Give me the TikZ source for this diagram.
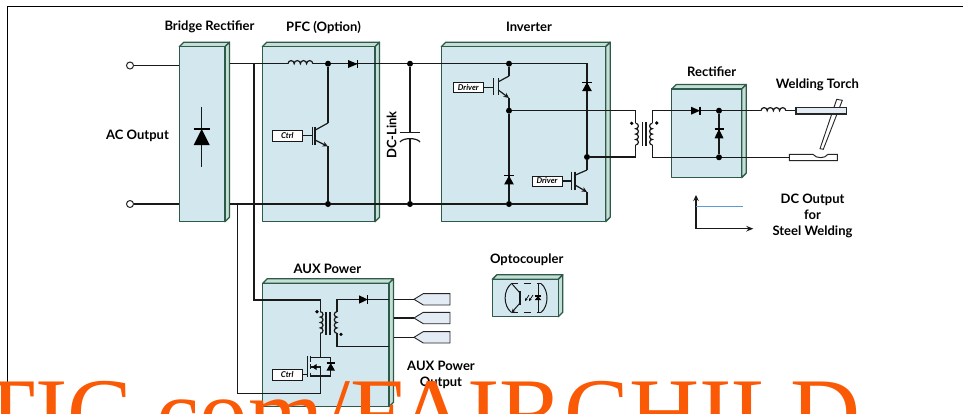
\documentclass[tikz,border=0pt]{standalone}
\usepackage{fontspec}
\setmainfont{Lato}
\newfontfamily\wmfont{Liberation Serif}
\usetikzlibrary{arrows.meta}
\definecolor{boxfill}{HTML}{D2E8EE}
\definecolor{boxside}{HTML}{C4DED8}
\definecolor{boxline}{HTML}{2E5B47}
\definecolor{portfill}{HTML}{E3EBF5}
\definecolor{wmorange}{HTML}{FA5A05}
\definecolor{curve}{HTML}{5B9BD5}
\tikzset{
  wire/.style={line width=1.2pt,black!90},
  dot/.style={circle,fill=black,inner sep=0pt,minimum size=6pt},
  term/.style={circle,draw=black!85,line width=1pt,fill=white,inner sep=0pt,minimum size=7pt},
  lbl/.style={font=\bfseries\fontsize{13}{13}\selectfont,text=black,inner sep=0pt,align=center},
  tag/.style={draw=black!90,line width=1pt,fill=white,inner sep=0pt,font=\bfseries\itshape\fontsize{8}{8}\selectfont},
  modbox/.style={draw=boxline,line width=1.3pt,line join=round},
  port/.style={draw=black!85,line width=.9pt,fill=portfill},
}
\newcommand{\modulebox}[5][4.5]{%
  \fill[boxside,modbox] (#2,#3)--++(#1,-#1)--(#4+#1,#3-#1)--(#4,#3)--cycle;
  \fill[boxside,modbox] (#4,#3)--(#4+#1,#3-#1)--(#4+#1,#5-#1)--(#4,#5)--cycle;
  \fill[boxfill,modbox] (#2,#3) rectangle (#4,#5);
}
\newcommand{\diodeH}[4]{%
  \fill[black] (#1,#3-#4)--(#2,#3)--(#1,#3+#4)--cycle;
  \draw[line width=1.2pt] (#2,#3-#4)--(#2,#3+#4);
}
\newcommand{\diodeV}[4]{%
  \fill[black] (#3-#4,#1)--(#3,#2)--(#3+#4,#1)--cycle;
  \draw[line width=1.2pt] (#3-#4,#2)--(#3+#4,#2);
}
\newcommand{\igbt}[7]{% gatex, barx, bartop, barbot, coll y, col x, emit y
  \draw[wire] (#1,#3)--(#1,#4);
  \draw[wire,line width=1.4pt] (#2,#3)--(#2,#4);
  \draw[wire] (#2,#3+3.5)--(#6,#5);
  \draw[wire,-{Stealth[length=5.5pt,width=5pt]}] (#2,#4-5)--(#6,#7);
}
\newcommand{\hcoil}[3]{%
  \draw[wire] (#1,#2) arc (180:360:#3) arc (180:360:#3) arc (180:360:#3) arc (180:360:#3);
}
\newcommand{\vcoilR}[3]{%
  \draw[wire] (#1,#2) arc (-90:90:#3) arc (-90:90:#3) arc (-90:90:#3) arc (-90:90:#3);
}
\newcommand{\vcoilL}[3]{%
  \draw[wire] (#1,#2) arc (-90:-270:#3) arc (-90:-270:#3) arc (-90:-270:#3) arc (-90:-270:#3);
}
\begin{document}
\begin{tikzpicture}[x=1pt,y=-1pt]
\useasboundingbox (0,0) rectangle (963,413);
\begin{scope}
\clip (0,0) rectangle (963,413);
\fill[white] (0,0) rectangle (963,413);
\draw[line width=1.3pt,black] (7.5,413)--(7.5,6.3)--(963,6.3);

% module boxes
\modulebox{179.3}{46.7}{225}{221.7}
\modulebox{262.3}{46.7}{375}{221.7}
\modulebox{441.3}{46.7}{605.7}{221.7}
\modulebox{671.7}{89}{741.7}{177.7}
\modulebox{262.7}{283.3}{389}{406.7}
\modulebox{492.3}{279.3}{558.3}{316.7}

% key points
\node[term] (acT) at (130,65.5) {};
\node[term] (acB) at (130,204) {};
\coordinate (brTL) at (179.3,65.5);
\coordinate (brBL) at (179.3,204);
\coordinate (brTR) at (229.5,63.7);
\coordinate (brBR) at (229.5,204);
\coordinate (tapA) at (254,63.7);
\coordinate (tapB) at (237.3,204);
\node[dot] (j1) at (328,63.7) {};
\node[dot] (j2) at (410,63.7) {};
\node[dot] (j3) at (509,63.7) {};
\node[dot] (j4) at (328,204) {};
\node[dot] (j5) at (410,204) {};
\node[dot] (j6) at (509,204) {};
\node[dot] (j7) at (509,110.7) {};
\node[dot] (j8) at (587,157) {};
\node[dot] (j9) at (719,110.7) {};
\node[dot] (j10) at (719,157.3) {};
\coordinate (railTR) at (587,63.7);
\coordinate (railBR) at (587,204);

% rails
\draw[wire] (acT)--(brTL);
\draw[wire] (acB)--(brBL);
\draw[wire] (brTR)--(288,63.7);
\draw[wire] (313,63.7)--(j1)--(j2)--(j3)--(railTR)--(j8);
\draw[wire] (brBR)--(j4)--(j5)--(j6)--(railBR)--(587,191.7);

% bridge rectifier
\draw[wire] (201.7,106.7)--(201.7,166.7);
\diodeV{145}{129}{201.7}{8}
\node[lbl] (lbridge) at (209.5,27) {Bridge Rectifier};
\node[lbl] (lac) at (137.5,135.5) {AC Output};

% PFC
\hcoil{288}{63.7}{3.1}
\diodeH{348}{357.5}{64}{4}
\draw[wire] (j1)--(328,123);
\draw[wire] (328,146)--(j4);
\node[tag,minimum width=30pt,minimum height=11pt] (ctrl1) at (287.3,135.5) {Ctrl};
\draw[wire] (ctrl1.east)--(312.3,135.5);
\igbt{312.3}{315}{126.7}{145}{123}{328}{146.5}
\node[lbl] (lpfc) at (323.5,27) {PFC (Option)};

% DC link
\draw[wire] (j2)--(410,132.7);
\draw[wire] (410,139)--(j5);
\draw[wire] (400,132.7)--(420,132.7);
\draw[wire] (400,142) .. controls (403,137.5) and (417,137.5) .. (420,142);
\node[lbl,rotate=90] (ldc) at (391.7,135) {DC-Link};

% Inverter
\draw[wire] (j3)--(509,76);
\draw[wire] (509,97.7)--(j7);
\node[tag,minimum width=30pt,minimum height=10pt] (drv1) at (468.3,87.2) {Driver};
\draw[wire] (drv1.east)--(493.3,87.2);
\igbt{493.3}{498.3}{78.3}{95}{76}{509}{98}
\draw[wire] (j7)--(j6);
\diodeV{184.3}{175.7}{509}{4.8}
\diodeV{91}{82.3}{587}{4.8}
\draw[wire] (j8)--(587,170);
\node[tag,minimum width=30pt,minimum height=10pt] (drv2) at (547,181) {Driver};
\draw[wire] (drv2.east)--(571.7,181);
\igbt{571.7}{575}{171.7}{190}{170}{587}{192}
\node[lbl] (linv) at (529,27) {Inverter};

% transformer
\coordinate (pT) at (635.7,123.3);
\coordinate (pB) at (635.7,145);
\coordinate (sT) at (652.3,123.3);
\coordinate (sB) at (652.3,145);
\draw[wire] (j7)--(635.7,110.7)--(pT);
\draw[wire] (pB)--(635.7,157)--(j8);
\vcoilR{635.7}{123.3}{2.7}
\vcoilL{652.3}{123.3}{2.7}
\draw[wire] (642.3,122)--(642.3,146) (646,122)--(646,146);
\fill (631.7,123.3) circle (1.8);
\fill (656.7,123) circle (1.8);
\coordinate (indIn) at (761,110.7);
\coordinate (indOut) at (785.8,110.7);

% secondary + rectifier
\draw[wire] (sT)--(652.3,110.7)--(j9)--(indIn);
\draw[wire] (sB)--(652.3,157.3)--(j10)--(789.3,157.3);
\diodeH{691}{700}{110.7}{4}
\draw[wire] (j9)--(j10);
\diodeV{138.3}{129}{719}{4.5}
\hcoil{761}{110.7}{3.1}
\draw[wire] (indOut)--(796,110.7);
\node[lbl] (lrect) at (711.7,72) {Rectifier};

% torch
\draw[port,fill=white] (836.7,99.3)--(842.3,100.3)--(823.3,149.3)--(820,148.7)--cycle;
\draw[port,line width=1.1pt] (796,107.7) rectangle (846.7,114);
\draw[port,fill=white,line width=1pt] (789.3,154.3)--(813,154.3) .. controls (816,158.8) and (825,158.8) .. (828,154.3)--(837.3,154.3)--(837.3,160.7)--(789.3,160.7)--cycle;
\node[lbl] (ltorch) at (817.3,84.5) {Welding Torch};

% chart
\coordinate (org) at (696,228.7);
\draw[wire,-{Stealth[length=6pt,width=5.5pt]}] (org)--(696,195);
\draw[wire,-{Stealth[length=7pt,width=5.5pt]}] (org)--(753.3,228.7);
\draw[curve,line width=1.3pt] (696,206.7)--(742.7,206.7);
\node[lbl] (ldc2) at (812.5,216) {DC Output\\[3.2pt]for\\[3.2pt]Steel Welding};

% AUX
\node[lbl] (laux) at (327.3,268.5) {AUX Power};
\draw[wire] (tapA)--(254,300)--(320.3,300)--(320.3,311.7);
\draw[wire] (tapB)--(237.3,393.3)--(320.3,393.3)--(320.3,376);
\vcoilR{320.3}{311.7}{2.7}
\vcoilL{337}{311.7}{2.7}
\draw[wire] (320.3,333.3)--(320.3,357.3)--(330.7,357.3)--(330.7,376)--(310.7,376);
\draw[wire] (310.7,357.3)--(320.3,357.3);
\draw[wire] (310.7,367)--(320.3,367)--(320.3,376);
\fill (312,367)--(316.5,364)--(316.5,370)--cycle;
\draw[wire,line width=1.4pt] (310.7,356)--(310.7,361.7) (310.7,364.3)--(310.7,369.3) (310.7,372.7)--(310.7,377.3);
\draw[wire] (307.7,356)--(307.7,377.3);
\diodeV{370.5}{363}{330.7}{4.2}
\node[tag,minimum width=29.7pt,minimum height=10.7pt] (ctrl2) at (287.2,374.7) {Ctrl};
\draw[wire] (ctrl2.east)--(307.7,374.7);
\draw[wire] (326,312)--(326,335) (330,312)--(330,335);
\fill (317,311.7) circle (1.8);
\fill (341,334.3) circle (1.8);
\draw[wire] (337,333.3)--(337,346.7)--(389,346.7);
\draw[wire] (337,311.7)--(337,299.5)--(389,299.5);
\diodeH{359}{367.7}{299.5}{4.2}

% AUX outputs
\coordinate (o1) at (394,299.3);
\coordinate (o2) at (394,318);
\coordinate (o3) at (394,337.3);
\foreach \n/\y in {o1/299.3,o2/318,o3/337.3}{
  \draw[port] (414,\y)--(423.3,\y-5.7)--(450,\y-5.7)--(450,\y+5.7)--(423.3,\y+5.7)--cycle;
  \draw[wire] (\n)--(414,\y);
}
\node[lbl] (lauxo) at (441,374.5) {AUX Power\\[2.8pt]Output};

% Optocoupler
\node[lbl] (lopto) at (526.7,259.7) {Optocoupler};
\begin{scope}[line width=1pt,black!90]
\draw (511.5,283.5) .. controls (503,290) and (503,306) .. (511.5,312.5);
\draw (541,283.5) .. controls (549,290) and (549,306) .. (541,312.5);
\draw (511.5,283.3)--(518,283.3) (524,283.3)--(531,283.3) (537,283.3)--(541,283.3);
\draw (511.5,312.7)--(518,312.7) (524,312.7)--(531,312.7) (537,312.7)--(541,312.7);
\draw (511.5,283.3)--(520,293);
\draw[-{Stealth[length=4pt,width=3.5pt]}] (520,303)--(511.5,312.7);
\draw[line width=1.3pt] (520,291)--(520,305);
\draw (538,283.3)--(538,312.7);
\end{scope}
\diodeV{300}{296}{538}{3.2}
\draw[line width=.7pt,-{Stealth[length=3pt,width=3pt]}] (533,295)--(529,301);
\draw[line width=.7pt,-{Stealth[length=3pt,width=3pt]}] (529,295)--(525,301);

% watermark
\node[anchor=base east,inner sep=0pt,text=wmorange,font=\wmfont\fontsize{97}{97}\selectfont] (wm) at (861,445) {TIC.com/FAIRCHILD};
\end{scope}
\end{tikzpicture}
\end{document}
